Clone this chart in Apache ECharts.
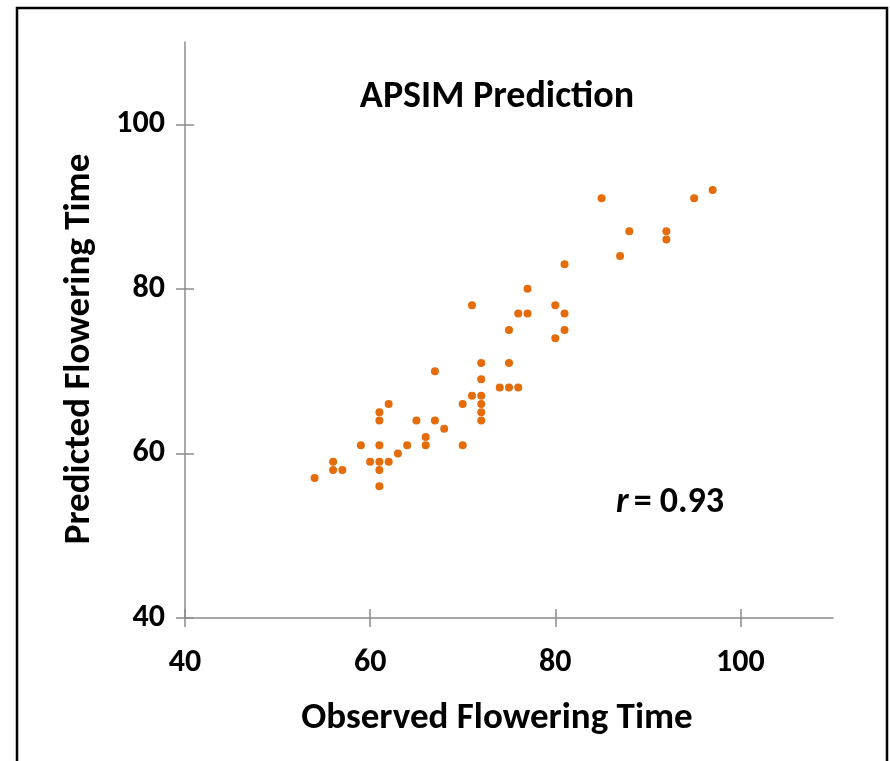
<!DOCTYPE html>
<html>
<head>
<meta charset="utf-8">
<script src="https://cdn.jsdelivr.net/npm/echarts@6/dist/echarts.min.js"></script>
<style>html,body{margin:0;padding:0;background:#fff}#c{width:890px;height:761px}</style>
</head>
<body>
<div id="c"></div>
<script>
var observed = [54,56,56,57,59,60,61,61,61,61,61,61,62,62,63,64,65,66,66,67,67,68,70,70,71,72,72,72,72,72,72,74,75,75,76,85,95,97,88,92,92,87,81,77,71,76,77,80,81,75,81,80];
var predicted = [57,59,58,58,61,59,61,59,58,56,64,65,66,59,60,61,64,62,61,70,64,63,66,61,67,71,69,67,66,65,64,68,71,68,68,91,91,92,87,87,86,84,83,80,78,77,77,78,77,75,75,74];
var xTicks = [40,60,80,100];
var yTicks = [40,60,80,100];
var titleText = 'APSIM Prediction';
var xName = 'Observed Flowering Time';
var yName = 'Predicted Flowering Time';
var rValue = '0.93';

var pts = observed.map(function(v,i){return [v, predicted[i]];});
var FONT = "Carlito, Lato, 'Open Sans', sans-serif";
var axisColor = '#8c8c8c';

function lbl(v){ return xTicks.indexOf(v) >= 0 ? String(v) : ''; }
function lblY(v){ return yTicks.indexOf(v) >= 0 ? String(v) : ''; }

var chart = echarts.init(document.getElementById('c'), null, {renderer:'canvas'});
chart.setOption({
  backgroundColor: '#fff',
  animation: false,
  title: [{
    text: titleText, left: 492, top: 73, textAlign: 'center',
    textStyle: {fontFamily: FONT, fontSize: 38, fontWeight: 'bold', color: '#000'}
  },{
    text: '{i|r} {n|= }{b|' + rValue + '}', left: 611, top: 480,
    textStyle: {rich: {
      i: {fontFamily: FONT, fontSize: 36, fontStyle: 'italic', color: '#000'},
      n: {fontFamily: FONT, fontSize: 36, color: '#000'},
      b: {fontFamily: FONT, fontSize: 36, fontWeight: 'bold', color: '#000'}
    }}
  }],
  grid: {left: 185, right: 57, top: 42, bottom: 143, containLabel: false},
  xAxis: [{
    type: 'value', min: 40, max: 110, interval: 10, position: 'bottom',
    axisLine: {show: true, lineStyle: {color: axisColor, width: 1.5}},
    axisTick: {show: true, length: 9, lineStyle: {color: axisColor, width: 1.5}, customValues: xTicks},
    splitLine: {show: false},
    axisLabel: {margin: 29, fontFamily: FONT, fontSize: 32, fontWeight: 'bold', color: '#000', formatter: lbl, customValues: xTicks},
    name: xName, nameLocation: 'middle', nameGap: 82,
    nameTextStyle: {fontFamily: FONT, fontSize: 37, fontWeight: 'bold', color: '#000', padding: [0, 24, 0, 0]}
  },{
    type: 'value', min: 40, max: 110, interval: 10, position: 'bottom',
    axisLine: {show: false},
    axisTick: {show: true, inside: true, length: 9, lineStyle: {color: axisColor, width: 1.5}, customValues: xTicks},
    axisLabel: {show: false}, splitLine: {show: false}
  }],
  yAxis: [{
    type: 'value', min: 40, max: 110, interval: 10, position: 'left',
    axisLine: {show: true, lineStyle: {color: axisColor, width: 1.5}},
    axisTick: {show: true, length: 9, lineStyle: {color: axisColor, width: 1.5}, customValues: yTicks},
    splitLine: {show: false},
    axisLabel: {margin: 20, fontFamily: FONT, fontSize: 32, fontWeight: 'bold', color: '#000', formatter: lblY, customValues: yTicks},
    name: yName, nameLocation: 'middle', nameGap: 87, nameRotate: 90,
    nameTextStyle: {fontFamily: FONT, fontSize: 37, fontWeight: 'bold', color: '#000', padding: [0, 38, 0, 0]}
  },{
    type: 'value', min: 40, max: 110, interval: 10, position: 'left',
    axisLine: {show: false},
    axisTick: {show: true, inside: true, length: 9, lineStyle: {color: axisColor, width: 1.5}, customValues: yTicks},
    axisLabel: {show: false}, splitLine: {show: false}
  }],
  graphic: [{
    type: 'rect', silent: true, z: 100,
    shape: {x: 17, y: 8, width: 870, height: 800},
    style: {fill: 'none', stroke: '#000', lineWidth: 2.5}
  }],
  series: [{
    type: 'scatter', xAxisIndex: 0, yAxisIndex: 0,
    data: pts, symbol: 'circle', symbolSize: 8,
    itemStyle: {color: '#E46C0A', opacity: 1}
  }]
});
</script>
</body>
</html>
